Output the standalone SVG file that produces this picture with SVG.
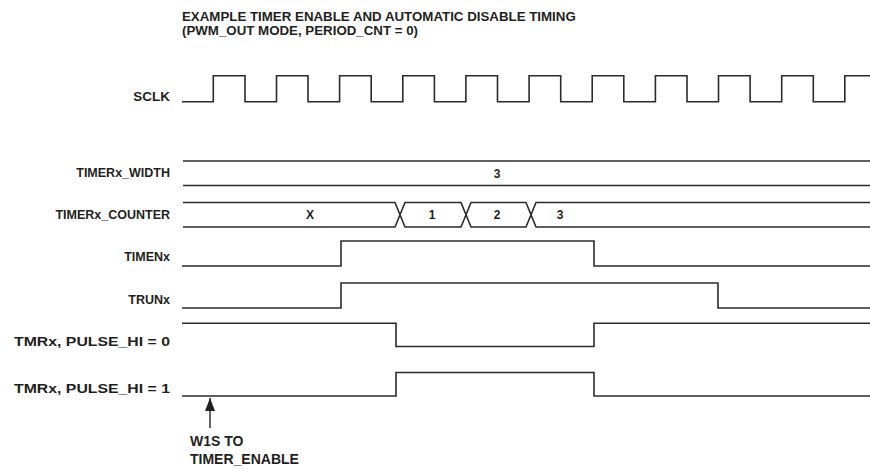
<svg xmlns="http://www.w3.org/2000/svg" width="870" height="470" viewBox="0 0 870 470">
<style>
  text { font-family: "Liberation Sans", Arial, sans-serif; font-weight: bold; fill: #231f20; }
  .title { font-size: 13.3px; }
  .lbl { font-size: 12.5px; text-anchor: end; }
  .lbl2 { font-size: 13.5px; text-anchor: end; }
  .val { font-size: 12px; text-anchor: middle; }
  .note { font-size: 14px; }
  .sig { fill: none; stroke: #2b2b2b; stroke-width: 1.6; stroke-linejoin: miter; }
</style>
<defs>
  <marker id="ah" markerWidth="14" markerHeight="10" refX="13" refY="5" orient="auto" markerUnits="userSpaceOnUse">
    <path d="M0,0 L13,5 L0,10 Z" fill="#231f20"/>
  </marker>
</defs>
<g id="title">
  <text class="title" x="182" y="21">EXAMPLE TIMER ENABLE AND AUTOMATIC DISABLE TIMING</text>
  <text class="title" x="182" y="35">(PWM_OUT MODE, PERIOD_CNT = 0)</text>
</g>
<g id="sclk">
  <text class="lbl" x="170" y="101" style="font-size:13.5px">SCLK</text>
  <path class="sig" d="M182,101.7 H213.3 V75.7 H245 V101.7 H276.5 V75.7 H308 V101.7 H339.6 V75.7 H371.2 V101.7 H402.8 V75.7 H434.4 V101.7 H465.9 V75.7 H497.5 V101.7 H529.1 V75.7 H560.7 V101.7 H592.2 V75.7 H623.8 V101.7 H655.4 V75.7 H687 V101.7 H718.5 V75.7 H750.1 V101.7 H781.7 V75.7 H813.3 V101.7 H844.8 V75.7 H870"/>
</g>
<g id="timerx_width">
  <text class="lbl" x="170" y="177">TIMERx_WIDTH</text>
  <path class="sig" d="M183,161 H870 M183,185.5 H870"/>
  <text class="val" x="497" y="178">3</text>
</g>
<g id="timerx_counter">
  <text class="lbl" x="170" y="219">TIMERx_COUNTER</text>
  <path class="sig" d="M183,202.5 H395 L405,227 H461 L471,202.5 H526 L536,227 H870 M183,227 H395 L405,202.5 H461 L471,227 H526 L536,202.5 H870"/>
  <text class="val" x="310" y="219">X</text>
  <text class="val" x="432" y="219">1</text>
  <text class="val" x="497" y="219">2</text>
  <text class="val" x="560" y="219">3</text>
</g>
<g id="timenx">
  <text class="lbl" x="170" y="261">TIMENx</text>
  <path class="sig" d="M182,266 H341 V241 H594 V266 H870"/>
</g>
<g id="trunx">
  <text class="lbl" x="170" y="304">TRUNx</text>
  <path class="sig" d="M182,308 H341 V283 H718 V308 H870"/>
</g>
<g id="tmrx_pulse_hi_0">
  <text class="lbl2" x="170" y="346" textLength="156" lengthAdjust="spacingAndGlyphs">TMRx, PULSE_HI = 0</text>
  <path class="sig" d="M182,323.3 H396 V346.5 H594 V323.3 H870"/>
</g>
<g id="tmrx_pulse_hi_1">
  <text class="lbl2" x="170" y="393" textLength="156" lengthAdjust="spacingAndGlyphs">TMRx, PULSE_HI = 1</text>
  <path class="sig" d="M182,396 H396 V372.5 H594 V396 H870"/>
</g>
<g id="w1s_note">
  <text class="note" x="190" y="446">W1S TO</text>
  <text class="note" x="190" y="464">TIMER_ENABLE</text>
</g>
<g id="connectors">
  <path d="M210,428 V398" fill="none" stroke="#231f20" stroke-width="1.4" marker-end="url(#ah)"/>
</g>
</svg>
